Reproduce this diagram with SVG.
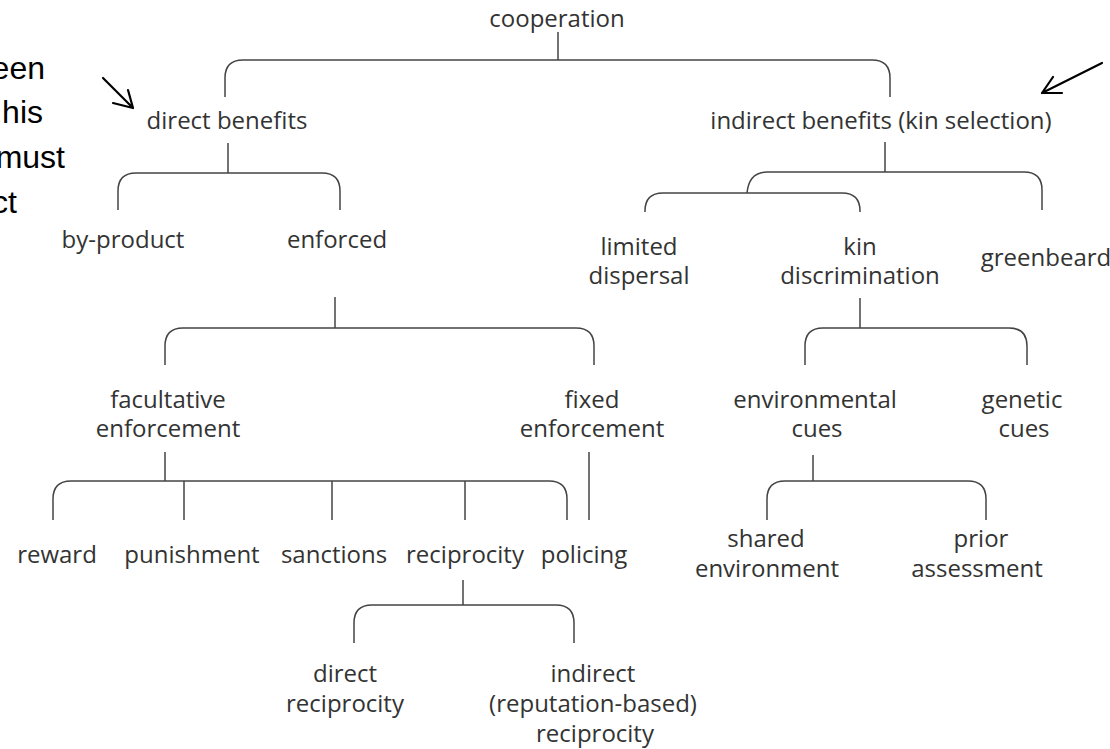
<svg xmlns="http://www.w3.org/2000/svg" width="1110" height="749" viewBox="0 0 1110 749">
<style>
.t{font-family:"Open Sans","Noto Sans","DejaVu Sans",sans-serif;font-size:24px;fill:#333;text-anchor:middle}
.s{font-family:"Liberation Sans",Arial,sans-serif;font-size:32px;fill:#000;text-anchor:end}
.c{fill:none;stroke:#444;stroke-width:1.5}
.a{fill:none;stroke:#000;stroke-width:2.2;stroke-linecap:round;stroke-linejoin:round}
</style>
<rect width="1110" height="749" fill="#fff"/>
<g id="sidenote">
<text class="s" x="45" y="79">een</text>
<text class="s" x="43" y="123">his</text>
<text class="s" x="65" y="168">must</text>
<text class="s" x="17" y="213">ct</text>
</g>
<g id="arrows">
<path class="a" d="M103,78 L133,108 M113,103 L133,108 L128,90"/>
<path class="a" d="M1102,63 L1042,93 M1053,77 L1042,93 L1062,93"/>
</g>
<g id="connectors">
<path class="c" d="M558,32 V60"/>
<path class="c" d="M225,97 V78 Q225,60 243,60 H872 Q890,60 890,78 V97"/>
<path class="c" d="M228,143 V173"/>
<path class="c" d="M118,210 V191 Q118,173 136,173 H322 Q340,173 340,191 V210"/>
<path class="c" d="M335,297 V328"/>
<path class="c" d="M165,365 V346 Q165,328 183,328 H576 Q594,328 594,346 V365"/>
<path class="c" d="M165,452 V481"/>
<path class="c" d="M53,520 V499 Q53,481 71,481 H549 Q567,481 567,499 V520"/>
<path class="c" d="M184,481 V520 M332,481 V520 M465,481 V520"/>
<path class="c" d="M589,452 V520"/>
<path class="c" d="M463,580 V605"/>
<path class="c" d="M354,643 V623 Q354,605 372,605 H556 Q574,605 574,623 V643"/>
<path class="c" d="M885,142 V172"/>
<path class="c" d="M747,193 Q749,172 767,172 H1024 Q1042,172 1042,190 V210"/>
<path class="c" d="M645,212 V211 Q645,193 663,193 H842 Q860,193 860,211 V212"/>
<path class="c" d="M860,298 V328"/>
<path class="c" d="M805,365 V346 Q805,328 823,328 H1009 Q1027,328 1027,346 V365"/>
<path class="c" d="M813,455 V481"/>
<path class="c" d="M767,520 V499 Q767,481 785,481 H968 Q986,481 986,499 V520"/>
</g>
<g id="n-cooperation"><text class="t" x="557" y="27">cooperation</text></g>
<g id="n-direct-benefits"><text class="t" x="227" y="129">direct benefits</text></g>
<g id="n-indirect-benefits"><text class="t" x="881" y="129">indirect benefits (kin selection)</text></g>
<g id="n-by-product"><text class="t" x="123" y="248">by-product</text></g>
<g id="n-enforced"><text class="t" x="337" y="248">enforced</text></g>
<g id="n-limited-dispersal"><text class="t" x="639" y="255">limited</text><text class="t" x="639" y="284">dispersal</text></g>
<g id="n-kin-discrimination"><text class="t" x="860" y="255">kin</text><text class="t" x="860" y="284">discrimination</text></g>
<g id="n-greenbeard"><text class="t" x="1046" y="266">greenbeard</text></g>
<g id="n-facultative"><text class="t" x="168" y="408">facultative</text><text class="t" x="168" y="437">enforcement</text></g>
<g id="n-fixed"><text class="t" x="592" y="408">fixed</text><text class="t" x="592" y="437">enforcement</text></g>
<g id="n-environmental"><text class="t" x="815" y="408">environmental</text><text class="t" x="817" y="437">cues</text></g>
<g id="n-genetic"><text class="t" x="1022" y="408">genetic</text><text class="t" x="1024" y="437">cues</text></g>
<g id="n-reward"><text class="t" x="57" y="563">reward</text></g>
<g id="n-punishment"><text class="t" x="192" y="563">punishment</text></g>
<g id="n-sanctions"><text class="t" x="334" y="563">sanctions</text></g>
<g id="n-reciprocity"><text class="t" x="465" y="563">reciprocity</text></g>
<g id="n-policing"><text class="t" x="584" y="563">policing</text></g>
<g id="n-shared"><text class="t" x="766" y="547">shared</text><text class="t" x="767" y="577">environment</text></g>
<g id="n-prior"><text class="t" x="981" y="547">prior</text><text class="t" x="977" y="577">assessment</text></g>
<g id="n-direct-reciprocity"><text class="t" x="345" y="682">direct</text><text class="t" x="345" y="712">reciprocity</text></g>
<g id="n-indirect-reciprocity"><text class="t" x="593" y="682">indirect</text><text class="t" x="593" y="712">(reputation-based)</text><text class="t" x="595" y="742">reciprocity</text></g>
</svg>
